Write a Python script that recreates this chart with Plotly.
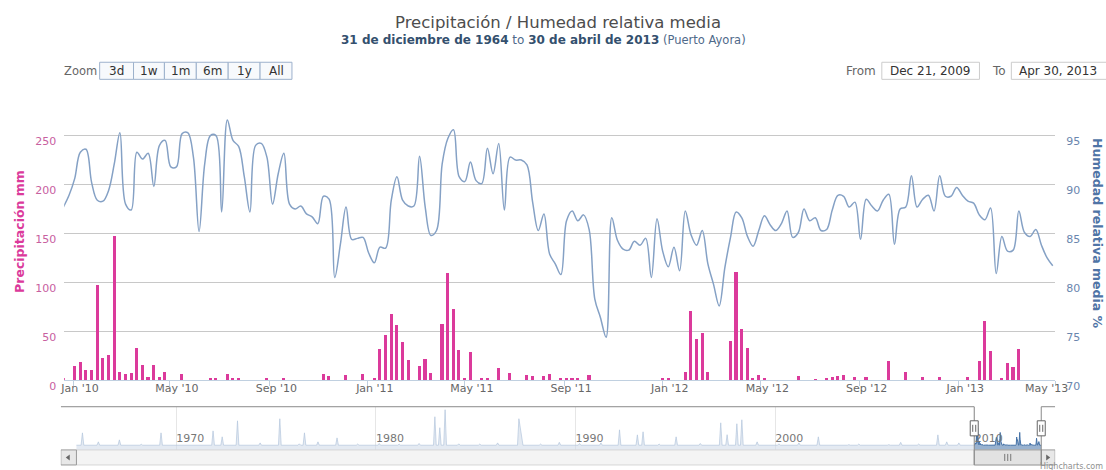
import pandas as pd
import plotly.graph_objects as go

# positions below are given in window pixels of the 1106x470 picture;
# the photographed page comes out about 3% shorter than the figure, so the
# figure is made that much taller and everything is placed in paper units
W, H = 1106, 470
FIG_H = 485
FONT = "DejaVu Sans"

# weekly values, Puerto Ayora, starting 2009-12-20
week_start = "2009-12-20"
precip_mm = [
    1,
    0, 14, 18.5, 10.5, 10.5, 97, 22.5, 25, 147, 8,
    6, 7, 32, 15, 3, 15, 3, 8, 0, 0,
    5.5, 0, 0, 0, 0, 1.5, 1.5, 0, 5.5, 1.5,
    1.5, 0, 0, 0, 0, 1, 0, 0, 1, 0,
    0, 0, 0, 0, 0, 5.5, 4, 0, 0, 4.5,
    0, 0, 5.5, 0, 1, 31, 46, 67, 56, 39,
    20, 0, 14, 21.5, 7, 0, 57, 109, 72, 30,
    2, 28, 0, 1, 1.5, 0, 12, 0, 7, 0,
    0, 5, 3.5, 0, 3.5, 5.5, 0, 1, 1, 1,
    1, 0, 4.5, 0, 0, 0, 0, 0, 0, 0,
    0, 0, 0, 0, 0, 1, 1, 0, 0, 8,
    70.5, 41.5, 48, 8, 0, 0, 0, 40, 110, 52,
    32, 1, 4.5, 1, 0, 0, 0, 0, 0, 3.5,
    0, 0, 0.5, 0, 1, 2.5, 3.5, 4.5, 0, 2.5,
    0, 3, 0, 0, 0, 19, 0, 0, 8, 0,
    0, 2.5, 0, 0, 2.5, 0, 0, 0, 0, 2.5,
    0, 19, 60, 29.5, 0, 2, 17, 13.5, 31, 0,
    0, 0, 0, 0, 0,
]
humidity_pct = [
    87.7,
    88.9, 90.6, 93.3, 93.6, 90.2, 88.4, 88.3, 89.4, 92.1, 95.3,
    88.0, 87.4, 93.3, 92.6, 93.2, 89.8, 94.0, 94.5, 91.8, 91.8,
    95.2, 95.3, 92.8, 85.2, 92.1, 95.0, 95.0, 87.2, 96.6, 94.5,
    93.9, 90.8, 87.2, 94.0, 94.2, 92.8, 88.0, 91.1, 93.2, 88.0,
    87.5, 87.8, 87.0, 86.7, 86.0, 88.8, 88.5, 80.5, 83.9, 87.7,
    84.4, 84.5, 84.6, 83.0, 82.0, 83.6, 83.5, 88.4, 90.8, 88.4,
    87.8, 87.8, 92.9, 87.7, 84.8, 85.3, 92.1, 94.7, 95.6, 90.8,
    90.3, 92.3, 90.4, 90.1, 93.7, 91.1, 94.2, 87.4, 92.8, 92.5,
    92.5, 92.0, 88.2, 85.3, 87.0, 82.9, 81.9, 80.8, 86.3, 87.3,
    86.3, 86.9, 85.4, 78.3, 76.4, 74.4, 86.6, 84.3, 83.4, 83.3,
    84.2, 83.8, 84.5, 80.5, 86.5, 83.2, 81.6, 83.6, 81.2, 87.3,
    84.9, 83.8, 85.3, 81.9, 79.8, 77.6, 81.5, 84.6, 87.2, 86.6,
    84.7, 83.7, 85.3, 86.8, 85.9, 85.3, 86.0, 87.3, 84.6, 85.1,
    87.5, 86.3, 86.6, 85.3, 85.4, 87.4, 88.9, 88.8, 87.7, 88.2,
    84.4, 88.5, 87.8, 87.3, 88.4, 89.0, 83.9, 87.5, 87.7, 90.9,
    87.7, 88.5, 88.9, 87.3, 90.9, 88.8, 88.8, 89.7, 88.9, 88.3,
    88.1, 86.9, 86.4, 87.6, 80.9, 84.7, 83.2, 83.3, 87.3, 85.1,
    84.7, 85.4, 83.8, 82.5, 81.7,
]

sel_start, sel_end = "2009-12-21", "2013-04-30"
x_end = "2013-05-01"

x_tick_dates = ["2010-01-01", "2010-05-01", "2010-09-01", "2011-01-01", "2011-05-01",
                "2011-09-01", "2012-01-01", "2012-05-01", "2012-09-01", "2013-01-01"]
x_tick_text = ["Jan '10", "May '10", "Sep '10", "Jan '11", "May '11",
               "Sep '11", "Jan '12", "May '12", "Sep '12", "Jan '13"]
last_tick_date, last_tick_text = "2013-05-01", "May '13"

precip_ticks = [0, 50, 100, 150, 200, 250]
humidity_ticks = [70, 75, 80, 85, 90, 95]

# navigator (whole record 1965-2009), rain peaks, mm
nav_start = "1964-12-31"
nav_peak_dates = [
    "1965-04-20", "1966-02-05", "1967-02-25", "1968-04-01", "1969-03-28",
    "1971-11-05", "1972-04-20", "1973-01-25", "1974-03-15", "1975-03-10",
    "1976-03-01", "1976-06-03", "1977-02-05", "1978-01-20", "1979-02-01",
    "1980-03-01", "1981-03-01", "1982-03-01", "1982-12-15", "1983-03-15",
    "1983-06-20", "1984-02-25", "1985-03-15", "1986-02-05", "1987-03-01",
    "1987-04-20", "1988-04-01", "1989-03-10", "1990-03-15", "1991-04-10",
    "1992-03-15", "1993-02-05", "1993-05-20", "1994-03-10", "1995-01-15",
    "1996-04-01", "1997-04-10", "1997-08-05", "1998-01-30", "1998-05-01",
    "1999-02-05", "2000-03-10", "2001-03-10", "2002-03-01", "2003-09-10",
    "2004-03-10", "2005-09-10", "2006-04-15", "2007-03-10", "2008-02-25",
    "2008-08-05", "2009-03-15",
]
nav_peak_vals = [
    106, 29, 46, 8, 106,
    123, 72, 209, 20, 227,
    12, 106, 29, 63, 10,
    15, 10, 15, 244, 150,
    304, 12, 10, 20, 227,
    89, 10, 25, 15, 20,
    132, 89, 115, 10, 72,
    15, 192, 90, 184, 218,
    29, 12, 20, 72, 5,
    10, 5, 25, 10, 89,
    29, 20,
]

zoom_buttons = ["3d", "1w", "1m", "6m", "1y", "All"]


def px(x):
    return x / W


def py(y):
    return 1 - y / H


def label(x, y, text, size, color, xanchor="center", **kw):
    return dict(x=px(x), y=py(y), xref="paper", yref="paper", showarrow=False,
                xanchor=xanchor, yanchor="middle", text=text,
                font=dict(size=size, color=color), **kw)


dates = pd.date_range(week_start, periods=len(precip_mm), freq="7D")

# navigator series: peaks padded with dry-season baseline
pk = pd.to_datetime(pd.Series(nav_peak_dates))
pad = pd.Timedelta(days=25)
nav_x, nav_y = [pd.Timestamp(nav_start)], [0]
for i, (d, v) in enumerate(zip(pk, nav_peak_vals)):
    if i == 0 or (d - pk[i - 1]).days > 60:
        nav_x.append(d - pad)
        nav_y.append(0)
    nav_x.append(d)
    nav_y.append(v)
    if i == len(pk) - 1 or (pk[i + 1] - d).days > 60:
        nav_x.append(d + pad)
        nav_y.append(0)
nav_x.append(dates[0] - pd.Timedelta(days=7))
nav_y.append(0)

NAV_MIN = -40
NAV_L, NAV_R = "1964-03-20", "2014-01-10"

fig = go.Figure()

fig.add_trace(go.Bar(
    x=dates, y=precip_mm, width=3.8 * 86400000,
    marker=dict(color="#DB3A9B", line=dict(width=0)),
    name="Precipitación", xaxis="x", yaxis="y",
))
fig.add_trace(go.Scatter(
    x=dates, y=humidity_pct, mode="lines",
    line=dict(color="#85A1C5", width=1.5, shape="spline", smoothing=1.0),
    name="Humedad relativa media", xaxis="x", yaxis="y2",
))

# navigator: faint part outside the selection, blue inside
for xs, ys, fillc, linec in [
    (nav_x, nav_y, "rgba(205,217,232,0.55)", "rgba(180,198,221,0.7)"),
    (list(dates), precip_mm, "rgba(69,114,167,0.55)", "#4572A7"),
]:
    fig.add_trace(go.Scatter(
        x=[xs[0], xs[-1]], y=[NAV_MIN, NAV_MIN], mode="lines",
        line=dict(width=0), hoverinfo="skip", xaxis="x2", yaxis="y3",
    ))
    fig.add_trace(go.Scatter(
        x=xs, y=ys, mode="lines", fill="tonexty", fillcolor=fillc,
        line=dict(color=linec, width=1), hoverinfo="skip",
        xaxis="x2", yaxis="y3",
    ))

fig.update_layout(
    width=W, height=FIG_H,
    margin=dict(l=0, r=0, t=0, b=0),
    paper_bgcolor="white", plot_bgcolor="white",
    showlegend=False, bargap=0,
    font=dict(family=FONT, size=11, color="#666666"),
    xaxis=dict(
        domain=[px(60.4), px(1055)], anchor="y", type="date",
        range=[sel_start, x_end], showgrid=False, zeroline=False,
        showline=True, linecolor="#C0D0E0", linewidth=1,
        tickmode="array", tickvals=x_tick_dates, ticktext=x_tick_text,
        ticks="", ticklabelshift=7, ticklabelstandoff=-3,
        tickfont=dict(size=11, color="#666666"),
        minor=dict(tickmode="array", tickvals=x_tick_dates + [last_tick_date],
                   ticks="outside", ticklen=5, tickwidth=1, tickcolor="#C0D0E0",
                   showgrid=False),
    ),
    yaxis=dict(
        domain=[py(378.7), py(116)], anchor="x", range=[0, 269.5],
        tickmode="array", tickvals=precip_ticks, showgrid=True,
        gridcolor="#C8C8C8", gridwidth=1, zeroline=False, showline=False,
        ticks="", ticklabelshift=6, ticklabelstandoff=7,
        tickfont=dict(size=11, color="#C8609F"),
    ),
    yaxis2=dict(
        overlaying="y", side="right", anchor="x", range=[70, 96.95],
        tickmode="array", tickvals=humidity_ticks, showgrid=False,
        zeroline=False, showline=False, ticks="",
        ticklabelshift=6, ticklabelstandoff=10,
        tickfont=dict(size=11, color="#6A86AE"),
    ),
    xaxis2=dict(
        domain=[px(57), px(1055)], anchor="y3", type="date",
        range=[NAV_L, NAV_R],
        tickmode="linear", tick0="1970-01-01", dtick="M120", tickformat="%Y",
        ticklabelposition="inside right", ticks="",
        showgrid=True, gridcolor="#E6E6E6", zeroline=False, showline=False,
        tickfont=dict(size=11, color="#777777"),
    ),
    yaxis3=dict(
        domain=[py(448), py(405)], anchor="x2", range=[NAV_MIN, 330],
        visible=False,
    ),
)

shapes = []
ann = []

# title and subtitle
ann.append(label(556, 22, "Precipitación / Humedad relativa media", 16.5, "#4D4D4D"))
ann.append(label(
    541, 40,
    "<b>31 de diciembre de 1964</b>"
    "<span style='color:#4F6A8A'> to </span>"
    "<b>30 de abril de 2013</b>"
    "<span style='font-size:11.5px;color:#4F6A8A'> (Puerto Ayora)</span>",
    12, "#34506E"))

# axis titles
ann.append(label(16, 230, "<b>Precipitación mm</b>", 12.5, "#DB3A9B", textangle=-90))
ann.append(label(1097, 232, "<b>Humedad relativa media %</b>", 12.5, "#4F74A6",
                 textangle=90))

# last x label, pushed left like the original
ann.append(label(1046, 387, last_tick_text, 11, "#666666"))

# range selector
ann.append(label(58, 71, "Zoom", 11.5, "#666666", xanchor="left"))
edges = [96, 130, 161, 193, 225, 257, 289]
for i, txt in enumerate(zoom_buttons):
    shapes.append(dict(type="rect", xref="paper", yref="paper",
                       x0=px(edges[i]), x1=px(edges[i + 1]), y0=py(79), y1=py(62),
                       fillcolor="#F7F9FC", line=dict(color="#9DB1CC", width=1),
                       layer="below"))
    ann.append(label((edges[i] + edges[i + 1]) / 2, 71, txt, 12, "#333333"))

# from / to inputs
ann.append(label(843, 71, "From", 12, "#666666", xanchor="left"))
ann.append(label(990, 71, "To", 12, "#666666", xanchor="left"))
for x0, x1, d in [(881, 979, sel_start), (1011, 1110, sel_end)]:
    shapes.append(dict(type="rect", xref="paper", yref="paper",
                       x0=px(x0), x1=px(x1), y0=py(79), y1=py(62),
                       fillcolor="white", line=dict(color="#CCCCCC", width=1),
                       layer="below"))
    ann.append(label(x0 + 6, 71, pd.Timestamp(d).strftime("%b %d, %Y"), 12, "#333333",
                     xanchor="left"))

# scrollbar
shapes.append(dict(type="rect", xref="x2", yref="paper",
                   x0=nav_start, x1=sel_end, y0=py(463), y1=py(448),
                   fillcolor="#F4F4F4", line=dict(color="#D6D6D6", width=1)))
for a, b, tip, back in [(NAV_L, nav_start, 62, 66), (sel_end, NAV_R, 1050, 1046)]:
    shapes.append(dict(type="rect", xref="x2", yref="paper", x0=a, x1=b,
                       y0=py(463), y1=py(448), fillcolor="#E8E8E8",
                       line=dict(color="#9A9A9A", width=1)))
    shapes.append(dict(type="path", xref="paper", yref="paper",
                       path=f"M {px(back)},{py(452.5)} L {px(tip)},{py(455.5)} "
                            f"L {px(back)},{py(458.5)} Z",
                       fillcolor="#666666", line=dict(width=0)))
shapes.append(dict(type="rect", xref="x2", yref="paper", x0=sel_start, x1=sel_end,
                   y0=py(463), y1=py(448), fillcolor="#E2E2E2",
                   line=dict(color="#9A9A9A", width=1)))
mid = pd.Timestamp(sel_start) + (pd.Timestamp(sel_end) - pd.Timestamp(sel_start)) / 2
shapes.append(dict(type="path", xref="x2", yref="paper", xsizemode="pixel", xanchor=mid,
                   path=f"M -3,{py(452)} L -3,{py(459)} M 0,{py(452)} L 0,{py(459)} "
                        f"M 3,{py(452)} L 3,{py(459)}",
                   line=dict(color="#777777", width=1)))

# navigator outline
oc = dict(color="#8A8A8A", width=1)
shapes.append(dict(type="line", xref="x2", yref="paper", x0=NAV_L, x1=sel_start,
                   y0=py(405), y1=py(405), line=oc))
shapes.append(dict(type="line", xref="x2", yref="paper", x0=sel_end, x1=NAV_R,
                   y0=py(405), y1=py(405), line=oc))
for d in (sel_start, sel_end):
    shapes.append(dict(type="line", xref="x2", yref="paper", x0=d, x1=d,
                       y0=py(405), y1=py(463), line=oc))

# navigator handles
for d in (sel_start, sel_end):
    shapes.append(dict(type="rect", xref="x2", yref="paper", xsizemode="pixel",
                       xanchor=d, x0=-4, x1=4, y0=py(434), y1=py(419),
                       fillcolor="white", line=dict(color="#666666", width=1)))
    shapes.append(dict(type="path", xref="x2", yref="paper", xsizemode="pixel",
                       xanchor=d,
                       path=f"M -1.5,{py(423)} L -1.5,{py(430)} M 1.5,{py(423)} "
                            f"L 1.5,{py(430)}",
                       line=dict(color="#666666", width=1)))

ann.append(label(1105, 465, "Highcharts.com", 8, "#909090", xanchor="right"))

fig.update_layout(shapes=shapes, annotations=ann)

page_css = ("document.documentElement.style.margin='0';"
            "document.body.style.margin='0';")
fig.write_html("out.html", post_script=page_css,
               config={"displayModeBar": False})
